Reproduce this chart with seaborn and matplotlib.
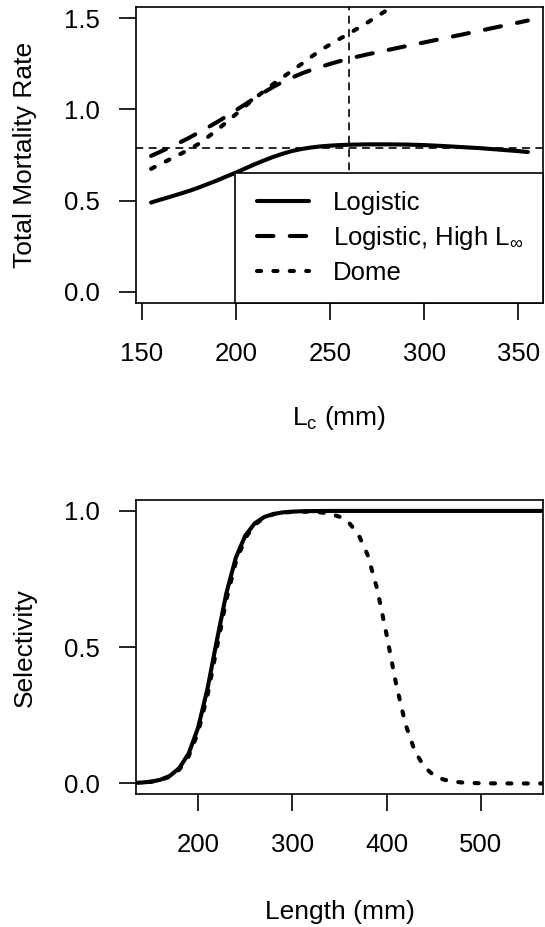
import matplotlib
matplotlib.use("Agg")
import matplotlib.pyplot as plt
from matplotlib.ticker import FormatStrFormatter
from matplotlib.lines import Line2D
from matplotlib.legend_handler import HandlerLine2D
import seaborn as sns

# ---------------- data ----------------
# Top panel: total mortality rate vs length at first capture (Lc)
lc_mm = [155, 160, 165, 170, 175, 180, 185, 190, 195, 200, 205, 210, 215, 220,
         225, 230, 235, 240, 245, 250, 255, 260, 270, 280, 290, 300, 310, 320,
         330, 340, 350, 355]
z_logistic = [0.489, 0.505, 0.520, 0.536, 0.552, 0.570, 0.590, 0.610, 0.632,
              0.653, 0.676, 0.699, 0.720, 0.740, 0.757, 0.772, 0.783, 0.791,
              0.797, 0.801, 0.804, 0.806, 0.808, 0.808, 0.807, 0.804, 0.799,
              0.793, 0.787, 0.779, 0.771, 0.766]
z_high_linf = [0.745, 0.768, 0.792, 0.817, 0.843, 0.871, 0.900, 0.930, 0.962,
               0.995, 1.028, 1.062, 1.094, 1.124, 1.151, 1.175, 1.197, 1.216,
               1.233, 1.249, 1.264, 1.278, 1.302, 1.324, 1.346, 1.367, 1.389,
               1.410, 1.432, 1.454, 1.476, 1.487]
z_dome = [0.674, 0.700, 0.726, 0.752, 0.779, 0.809, 0.847, 0.887, 0.929, 0.973,
          1.018, 1.060, 1.100, 1.140, 1.177, 1.213, 1.250, 1.288, 1.324, 1.356,
          1.386, 1.415, 1.477, 1.543, 1.610, 1.675, 1.740, 1.800, 1.860, 1.920,
          1.980, 2.010]
ref_lc = 260
ref_z = 0.79

# Bottom panel: selectivity vs length
length_mm = [130, 140, 150, 160, 170, 180, 190, 200, 210, 220, 230, 240, 250,
             260, 270, 280, 290, 300, 310, 320, 330, 340, 350, 360, 370, 380,
             390, 400, 410, 420, 430, 440, 450, 460, 470, 480, 490, 500, 510,
             520, 530, 540, 550, 560, 570]
sel_logistic = [0.0015, 0.0032, 0.0066, 0.0136, 0.0279, 0.0563, 0.1105, 0.2053,
                0.3493, 0.5275, 0.6990, 0.8285, 0.9094, 0.9543, 0.9775, 0.9890,
                0.9947, 0.9974, 0.9988, 0.9994, 0.9997, 0.9999, 1.0, 1.0, 1.0,
                1.0, 1.0, 1.0, 1.0, 1.0, 1.0, 1.0, 1.0, 1.0, 1.0, 1.0, 1.0, 1.0,
                1.0, 1.0, 1.0, 1.0, 1.0, 1.0, 1.0]
sel_dome = [0.0014, 0.0029, 0.0059, 0.0122, 0.0251, 0.0508, 0.1001, 0.1880,
            0.3250, 0.5000, 0.6750, 0.8120, 0.9000, 0.9490, 0.9750, 0.9878,
            0.9938, 0.9965, 0.9974, 0.9969, 0.9947, 0.9895, 0.9788, 0.9570,
            0.9146, 0.8375, 0.7137, 0.5457, 0.3663, 0.2179, 0.1183, 0.0608,
            0.0302, 0.0148, 0.0072, 0.0035, 0.0017, 0.0008, 0.0004, 0.0002,
            0.0001, 0.0, 0.0, 0.0, 0.0]

legend_labels = ["Logistic", r"Logistic, High $\mathregular{L_{\infty}}$", "Dome"]

# ---------------- style ----------------
sns.set_style("ticks")
plt.rcParams["font.family"] = ["Liberation Sans", "DejaVu Sans"]
plt.rcParams["mathtext.fontset"] = "custom"
plt.rcParams["mathtext.rm"] = "Liberation Sans"
plt.rcParams["mathtext.it"] = "Liberation Sans:italic"
plt.rcParams["mathtext.default"] = "regular"
for key in ("text.color", "axes.labelcolor", "xtick.color", "ytick.color",
            "axes.edgecolor"):
    plt.rcParams[key] = "black"

FS = 18.5
FS_LAB = 19
LW = 2.95
SPINE = 1.2
STYLES = ["-", (0, (4, 4)), (0, (1, 3))]

fig = plt.figure(figsize=(5.45, 9.27), dpi=100)
ax1 = fig.add_axes([0.2495, 0.6735, 0.7468, 0.3187])
ax2 = fig.add_axes([0.2495, 0.1431, 0.7468, 0.3175])

def style_axes(ax):
    for s in ax.spines.values():
        s.set_visible(True)
        s.set_linewidth(SPINE)
        s.set_color("black")
    ax.tick_params(axis="both", direction="out", length=12, width=SPINE,
                   colors="black", labelcolor="black", labelsize=FS)
    ax.tick_params(axis="x", pad=16.0)
    ax.tick_params(axis="y", pad=13.9)
    ax.grid(False)

def draw(ax, x, y, ls):
    sns.lineplot(x=x, y=y, ax=ax, color="black", linewidth=LW,
                 estimator=None, sort=False)
    ln = ax.lines[-1]
    ln.set_linestyle(ls)
    ln.set_dash_capstyle("round")
    ln.set_solid_capstyle("round")
    return ln

# ---- top panel ----
h1 = draw(ax1, lc_mm, z_logistic, STYLES[0])
h2 = draw(ax1, lc_mm, z_high_linf, STYLES[1])
h3 = draw(ax1, lc_mm, z_dome, STYLES[2])
for fn, v in ((ax1.axvline, ref_lc), (ax1.axhline, ref_z)):
    l = fn(v, color="black", linewidth=1.2, linestyle=(0, (4, 4)))
    l.set_dash_capstyle("round")
ax1.set_xlim(147, 363)
ax1.set_ylim(-0.06, 1.56)
ax1.set_xticks([150, 200, 250, 300, 350])
ax1.set_yticks([0.0, 0.5, 1.0, 1.5])
ax1.yaxis.set_major_formatter(FormatStrFormatter("%.1f"))
style_axes(ax1)
ax1.set_xlabel(r"$\mathregular{L_c}$ (mm)", fontsize=FS_LAB)
ax1.set_ylabel("Total Mortality Rate", fontsize=FS_LAB)
ax1.xaxis.set_label_coords(0.5, -0.343)
ax1.yaxis.set_label_coords(-0.2427, 0.5)

leg = ax1.legend([h1, h2, h3], legend_labels, loc="lower left",
                 bbox_to_anchor=(0.2423, 0.0, 0.7577, 0.5), mode="expand",
                 borderaxespad=0, fontsize=FS, handlelength=2.18,
                 handletextpad=0.95, borderpad=0.70, labelspacing=0.34,
                 fancybox=False, framealpha=1, edgecolor="black",
                 facecolor="white",
                 handler_map={Line2D: HandlerLine2D(xpad=0.16)})
leg.get_frame().set_linewidth(SPINE)

# ---- bottom panel ----
draw(ax2, length_mm, sel_logistic, STYLES[0])
draw(ax2, length_mm, sel_dome, STYLES[2])
ax2.set_xlim(134, 566)
ax2.set_ylim(-0.04, 1.04)
ax2.set_xticks([200, 300, 400, 500])
ax2.set_yticks([0.0, 0.5, 1.0])
ax2.yaxis.set_major_formatter(FormatStrFormatter("%.1f"))
style_axes(ax2)
ax2.set_xlabel("Length (mm)", fontsize=FS_LAB)
ax2.set_ylabel("Selectivity", fontsize=FS_LAB)
ax2.xaxis.set_label_coords(0.5, -0.358)
ax2.yaxis.set_label_coords(-0.2427, 0.5)

fig.savefig("out.png", dpi=100)
